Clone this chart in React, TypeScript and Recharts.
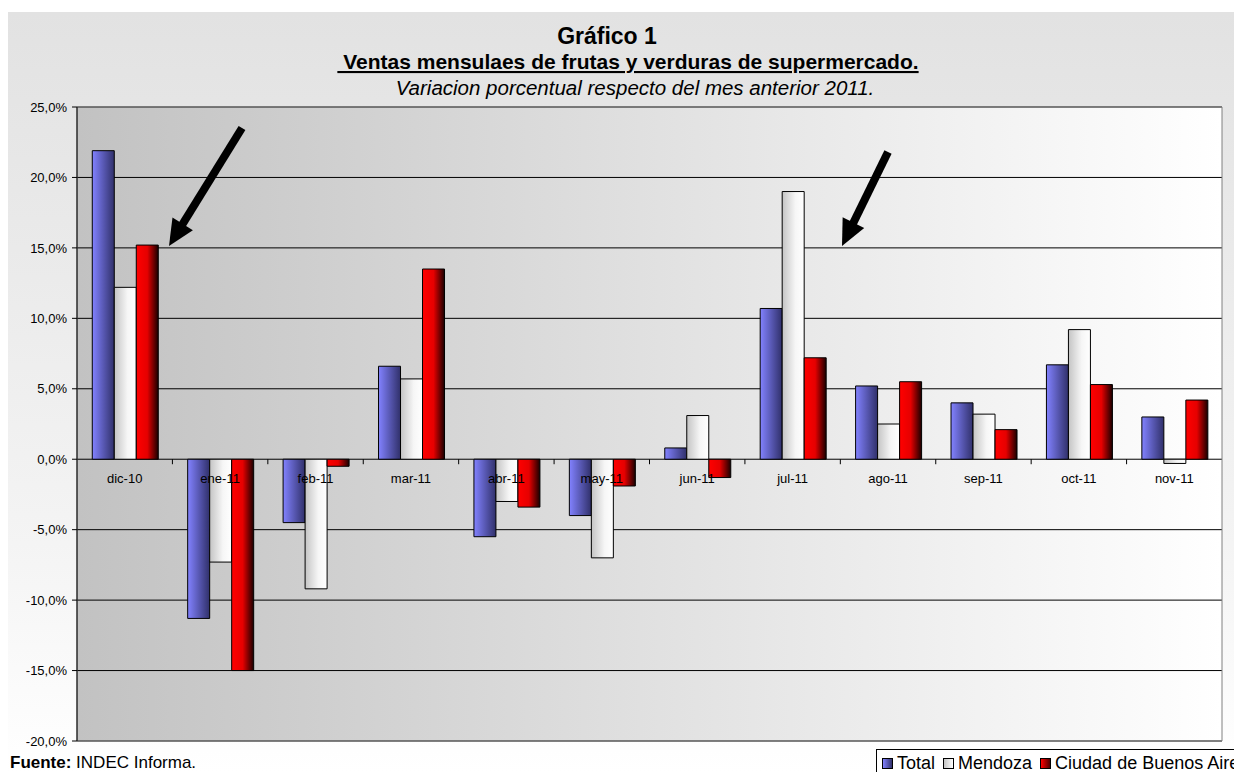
import { BarChart, Bar, XAxis, YAxis, CartesianGrid, ReferenceArea, Legend } from "recharts";

const categories = ["dic-10", "ene-11", "feb-11", "mar-11", "abr-11", "may-11", "jun-11", "jul-11", "ago-11", "sep-11", "oct-11", "nov-11"];
const total = [21.9, -11.3, -4.5, 6.6, -5.5, -4.0, 0.8, 10.7, 5.2, 4.0, 6.7, 3.0];
const mendoza = [12.2, -7.3, -9.2, 5.7, -3.0, -7.0, 3.1, 19.0, 2.5, 3.2, 9.2, -0.3];
const caba = [15.2, -15.0, -0.5, 13.5, -3.4, -1.9, -1.3, 7.2, 5.5, 2.1, 5.3, 4.2];
const yTicks = [-20, -15, -10, -5, 0, 5, 10, 15, 20, 25];

const FONT = "Arial, 'Liberation Sans', sans-serif";

// chart box and plot area (chart coords)
const CHART_W = 1226;
const CHART_H = 760;
const PLOT_TOP = 95;
const PLOT_LEFT = 69;
const PLOT_W = 1145;
const PLOT_H = 634;
const Y_MIN = -20;
const Y_MAX = 25;
const ZERO_Y = PLOT_TOP + (PLOT_H * Y_MAX) / (Y_MAX - Y_MIN);
const BAND = PLOT_W / categories.length;

const data = categories.map((c, i) => ({
  mes: c,
  total: total[i],
  mendoza: mendoza[i],
  caba: caba[i],
}));

const SERIES = [
  { key: "total", name: "Total", fill: "url(#gTotal)", css: "linear-gradient(to right, #8282ff, #30306a)" },
  { key: "mendoza", name: "Mendoza", fill: "url(#gMendoza)", css: "linear-gradient(to right, #c4c4c4, #ffffff)" },
  { key: "caba", name: "Ciudad de Buenos Aires", fill: "url(#gCaba)", css: "linear-gradient(to right, #ff0000, #500000)" },
];

const fmt = (v: number) => v.toFixed(1).replace(".", ",") + "%";

function CatTick(props: any) {
  const { x, payload, index } = props;
  return (
    <g>
      <text x={x} y={ZERO_Y + 24} textAnchor="middle" fontSize={13} fontFamily={FONT} fill="#000">
        {payload.value}
      </text>
      {index > 0 && <line x1={x - BAND / 2} x2={x - BAND / 2} y1={ZERO_Y} y2={ZERO_Y + 5} stroke="#000" />}
    </g>
  );
}

function LegendBox() {
  return (
    <div
      style={{
        display: "flex",
        alignItems: "center",
        border: "1px solid #000",
        background: "#fff",
        height: 26,
        paddingLeft: 5,
        fontFamily: FONT,
        fontSize: 18,
        color: "#000",
        whiteSpace: "nowrap",
      }}
    >
      {SERIES.map((s) => (
        <span key={s.key} style={{ display: "inline-flex", alignItems: "center", marginRight: 8 }}>
          <span
            style={{
              display: "inline-block",
              width: 9,
              height: 9,
              border: "1px solid #000",
              background: s.css,
              marginRight: 4,
            }}
          />
          {s.name}
        </span>
      ))}
    </div>
  );
}

function Arrow({ x1, y1, x2, y2 }: { x1: number; y1: number; x2: number; y2: number }) {
  const dx = x2 - x1;
  const dy = y2 - y1;
  const len = Math.hypot(dx, dy);
  const ux = dx / len;
  const uy = dy / len;
  const headL = 26;
  const headW = 12;
  const bx = x2 - ux * headL;
  const by = y2 - uy * headL;
  return (
    <g>
      <line x1={x1} y1={y1} x2={bx + ux * 4} y2={by + uy * 4} stroke="#000" strokeWidth={8} />
      <polygon
        points={`${x2},${y2} ${bx - uy * headW},${by + ux * headW} ${bx + uy * headW},${by - ux * headW}`}
        fill="#000"
      />
    </g>
  );
}

export default function App() {
  return (
    <div style={{ position: "absolute", left: 0, top: 0, width: 1234, height: 772, overflow: "hidden", background: "#fff" }}>
      <div
        style={{
          position: "absolute",
          left: 8,
          top: 12,
          width: CHART_W,
          height: CHART_H,
          background: "linear-gradient(to bottom, #e2e2e2, #f4f4f4 70%, #ffffff)",
        }}
      >
        <BarChart
          width={CHART_W}
          height={CHART_H}
          data={data}
          margin={{ top: PLOT_TOP, right: CHART_W - PLOT_LEFT - PLOT_W, bottom: 0, left: 0 }}
          barGap={0}
          barCategoryGap="16%"
        >
          <defs>
            <linearGradient id="plotBg" x1="0" y1="0" x2="1" y2="0">
              <stop offset="0%" stopColor="#c2c2c2" />
              <stop offset="100%" stopColor="#ffffff" />
            </linearGradient>
            <linearGradient id="gTotal" x1="0" y1="0" x2="1" y2="0">
              <stop offset="0%" stopColor="#8282ff" />
              <stop offset="100%" stopColor="#30306a" />
            </linearGradient>
            <linearGradient id="gMendoza" x1="0" y1="0" x2="1" y2="0">
              <stop offset="0%" stopColor="#c4c4c4" />
              <stop offset="60%" stopColor="#f6f6f6" />
              <stop offset="100%" stopColor="#ffffff" />
            </linearGradient>
            <linearGradient id="gCaba" x1="0" y1="0" x2="1" y2="0">
              <stop offset="0%" stopColor="#ff0000" />
              <stop offset="50%" stopColor="#e60000" />
              <stop offset="100%" stopColor="#1a0000" />
            </linearGradient>
          </defs>
          <CartesianGrid vertical={false} stroke="#000" fill="url(#plotBg)" fillOpacity={1} />
          <ReferenceArea y1={Y_MIN} y2={Y_MAX} fill="none" stroke="#808080" strokeWidth={1} ifOverflow="visible" />
          <YAxis
            width={PLOT_LEFT}
            domain={[Y_MIN, Y_MAX]}
            ticks={yTicks}
            interval={0}
            tickFormatter={fmt}
            tick={{ fontSize: 13, fill: "#000", fontFamily: FONT }}
            tickSize={5}
            tickMargin={5}
            axisLine={{ stroke: "#000" }}
            tickLine={{ stroke: "#000" }}
          />
          {SERIES.map((s) => (
            <Bar
              key={s.key}
              dataKey={s.key}
              name={s.name}
              fill={s.fill}
              stroke="#000"
              strokeWidth={1}
              isAnimationActive={false}
            />
          ))}
          <XAxis
            dataKey="mes"
            height={CHART_H - PLOT_TOP - PLOT_H}
            axisLine={false}
            tickLine={false}
            interval={0}
            tick={<CatTick />}
          />
          <Legend
            layout="horizontal"
            verticalAlign="middle"
            align="center"
            wrapperStyle={{ position: "absolute", left: 868, top: 737, width: 420, height: 28 }}
            content={() => <LegendBox />}
          />
        </BarChart>
      </div>
      <svg width={1234} height={772} style={{ position: "absolute", left: 0, top: 0, pointerEvents: "none" }}>
        <text x={607} y={44} textAnchor="middle" fontFamily={FONT} fontWeight="bold" fontSize={23} fill="#000">
          Gráfico 1
        </text>
        <text
          x={628}
          y={69}
          textAnchor="middle"
          fontFamily={FONT}
          fontWeight="bold"
          fontSize={21}
          fill="#000"
          textDecoration="underline"
          style={{ whiteSpace: "pre" }}
        >
          {" Ventas mensulaes de frutas y verduras de supermercado."}
        </text>
        <text x={635} y={95} textAnchor="middle" fontFamily={FONT} fontStyle="italic" fontSize={20.5} fill="#000">
          Variacion porcentual respecto del mes anterior 2011.
        </text>
        <Arrow x1={242} y1={128} x2={169} y2={246} />
        <Arrow x1={888} y1={152} x2={842} y2={246} />
        <text x={10} y={768} fontFamily={FONT} fontSize={17} fill="#000">
          <tspan fontWeight="bold">Fuente:</tspan> INDEC Informa.
        </text>
      </svg>
    </div>
  );
}
